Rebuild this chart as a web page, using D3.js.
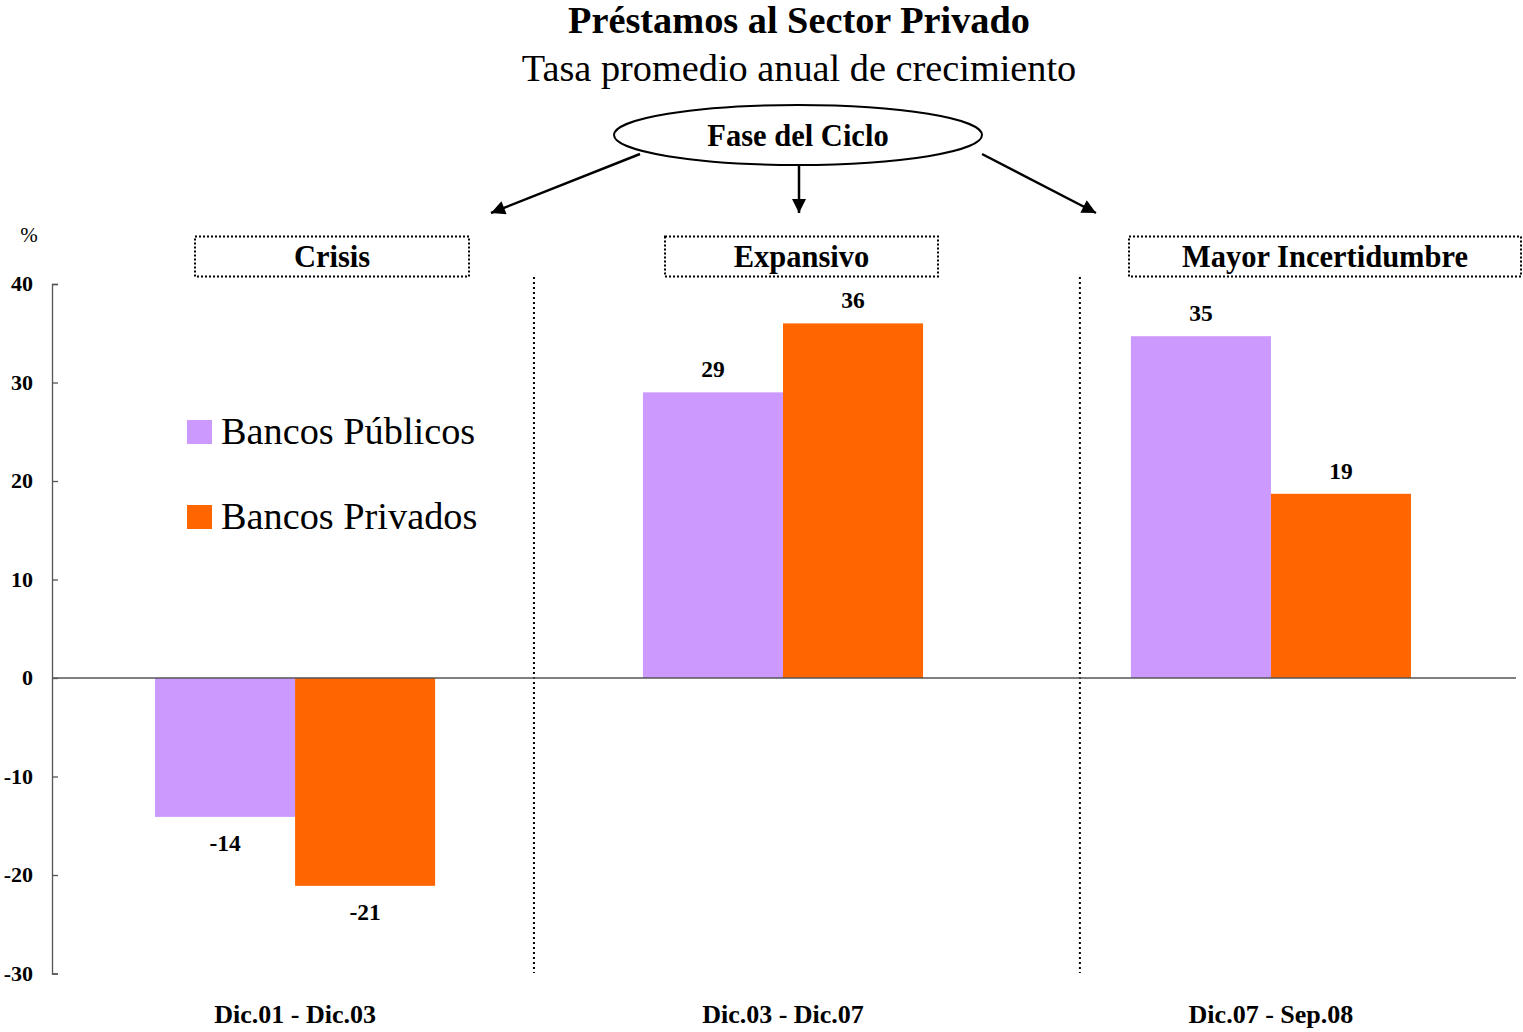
<!DOCTYPE html>
<html><head><meta charset="utf-8">
<script src="https://cdn.jsdelivr.net/npm/d3@7"></script>
<style>body{margin:0;background:#fff}svg{display:block}text{font-family:"Liberation Serif","Times New Roman",serif}</style>
</head><body>
<script>
const categories = ["Dic.01 - Dic.03", "Dic.03 - Dic.07", "Dic.07 - Sep.08"];
const phases = ["Crisis", "Expansivo", "Mayor Incertidumbre"];
const seriesNames = ["Bancos Públicos", "Bancos Privados"];
const publicos = [-14.1, 29.0, 34.7];
const privados = [-21.1, 36.0, 18.7];
const yTicks = [-30, -20, -10, 0, 10, 20, 30, 40];
const colors = ["#cc99ff", "#ff6600"];

const W = 1523, H = 1032;
const svg = d3.select("body").append("svg").attr("width", W).attr("height", H);
const defs = svg.append("defs");
defs.append("marker").attr("id","arr").attr("viewBox","0 0 10 10").attr("refX",10).attr("refY",5)
  .attr("markerWidth",16).attr("markerHeight",14).attr("markerUnits","userSpaceOnUse").attr("orient","auto")
  .append("path").attr("d","M0,0 L10,5 L0,10 z").attr("fill","#000");

const y = d3.scaleLinear().domain([-30, 40]).range([973.5, 284]);
const x = d3.scaleBand().domain(categories).range([55, 1511]).paddingInner(0.426).paddingOuter(0.205);
const xs = d3.scaleBand().domain([0, 1]).range([0, x.bandwidth()]);
const fmt = d => String(Math.round(d));

// Title
svg.append("text").attr("x", 799).attr("y", 33).attr("text-anchor","middle")
  .attr("font-size", 38.3).attr("font-weight","bold").text("Préstamos al Sector Privado");
svg.append("text").attr("x", 799).attr("y", 81).attr("text-anchor","middle")
  .attr("font-size", 38.3).text("Tasa promedio anual de crecimiento");

// Ellipse + arrows
svg.append("ellipse").attr("cx", 798).attr("cy", 135).attr("rx", 184).attr("ry", 30)
  .attr("fill","none").attr("stroke","#000").attr("stroke-width",2);
svg.append("text").attr("x", 798).attr("y", 146).attr("text-anchor","middle")
  .attr("font-size", 30.5).attr("font-weight","bold").text("Fase del Ciclo");
const arrows = [[640,154,491,213],[799,166,799,213],[982,154,1096,213]];
svg.selectAll(".arrow").data(arrows).enter().append("line")
  .attr("x1",d=>d[0]).attr("y1",d=>d[1]).attr("x2",d=>d[2]).attr("y2",d=>d[3])
  .attr("stroke","#000").attr("stroke-width",2.5).attr("marker-end","url(#arr)");

// Phase boxes
const boxes = [[195,469],[665,938],[1129,1521]];
boxes.forEach((b,i)=>{
  svg.append("rect").attr("x",b[0]).attr("y",236.5).attr("width",b[1]-b[0]).attr("height",40)
    .attr("fill","none").attr("stroke","#000").attr("stroke-width",2).attr("stroke-dasharray","2,2");
  svg.append("text").attr("x",(b[0]+b[1])/2).attr("y",267).attr("text-anchor","middle")
    .attr("font-size",30.5).attr("font-weight","bold").text(phases[i]);
});

// Separators
const seps = [x(categories[1]) - 109, x(categories[2]) - 51];
seps.forEach(s=>{
  svg.append("line").attr("x1",s).attr("x2",s).attr("y1",277).attr("y2",973)
    .attr("stroke","#000").attr("stroke-width",2).attr("stroke-dasharray","2,3");
});

// Bars
const data = [publicos, privados];
data.forEach((vals, si)=>{
  svg.selectAll(".b"+si).data(vals).enter().append("rect")
    .attr("x",(d,i)=>x(categories[i]) + xs(si)).attr("width", xs.bandwidth())
    .attr("y", d=>y(Math.max(0,d))).attr("height", d=>Math.abs(y(d)-y(0)))
    .attr("fill", colors[si]);
  svg.selectAll(".l"+si).data(vals).enter().append("text")
    .attr("x",(d,i)=>x(categories[i]) + xs(si) + xs.bandwidth()/2)
    .attr("y", d=> d>=0 ? y(d)-15 : y(d)+34)
    .attr("text-anchor","middle").attr("font-size",23.5).attr("font-weight","bold")
    .text(fmt);
});

// Zero line
svg.append("line").attr("x1",52).attr("x2",1516).attr("y1",y(0)).attr("y2",y(0)).attr("stroke","#555").attr("stroke-width",1.3);

// Y axis
const ax = svg.append("g").attr("transform","translate(52,0)")
  .call(d3.axisRight(y).tickValues(yTicks).tickSize(6).tickFormat(""));
ax.select(".domain").attr("stroke","#555").attr("stroke-width",1.3);
ax.selectAll(".tick line").attr("stroke","#555").attr("stroke-width",1.3);
svg.selectAll(".ytl").data(yTicks).enter().append("text")
  .attr("x",33).attr("y",d=>y(d)+7).attr("text-anchor","end")
  .attr("font-size",22).attr("font-weight","bold").text(fmt);
svg.append("text").attr("x",29).attr("y",242).attr("text-anchor","middle").attr("font-size",21).text("%");

// X labels
svg.selectAll(".xl").data(categories).enter().append("text")
  .attr("x",d=>x(d)+x.bandwidth()/2).attr("y",1023).attr("text-anchor","middle")
  .attr("font-size",26).attr("font-weight","bold").text(d=>d);

// Legend
seriesNames.forEach((n,i)=>{
  svg.append("rect").attr("x",187).attr("y",420+i*85).attr("width",25).attr("height",24).attr("fill",colors[i]);
  svg.append("text").attr("x",221).attr("y",444+i*85).attr("font-size",38.3).text(n);
});
</script>
</body></html>
